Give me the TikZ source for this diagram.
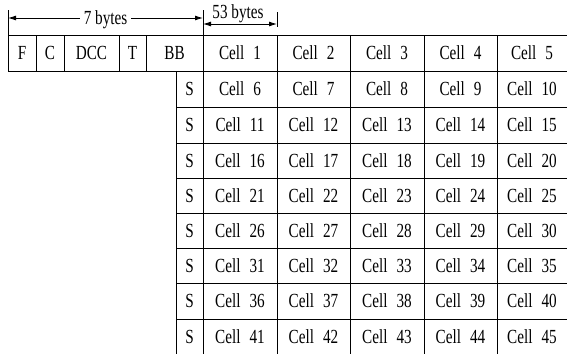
\documentclass[tikz,border=0pt]{standalone}
\usepackage{fontspec}
\setmainfont{Liberation Serif}[FakeStretch=0.76]
\usetikzlibrary{arrows.meta}
\begin{document}
\begin{tikzpicture}[x=1pt,y=-1pt,line width=0.9pt,
  lbl/.style={font=\fontsize{20}{22}\selectfont,inner sep=0pt,text height=13.5pt,text depth=0pt,anchor=center},
  dimline/.style={{Latex[length=8pt,width=5pt]}-{Latex[length=8pt,width=5pt]},line width=0.9pt},
  grid/.style={line width=0.9pt}]
\useasboundingbox (0,0) rectangle (567,354);
% header grid
\draw[grid] (8,35) -- (567,35);
\draw[grid] (8,71) -- (567,71);
\foreach \x in {36,64,119,146} \draw[grid] (\x,35) -- (\x,71);
\draw[grid] (8,10) -- (8,71);
\draw[grid] (203,10) -- (203,354);
\foreach \x in {277,350,424,497} \draw[grid] (\x,35) -- (\x,354);
\draw[grid] (277,12) -- (277,27);
% body grid
\draw[grid] (176,71) -- (176,354);
\foreach \y in {107,143,178,213,248,283,319} \draw[grid] (176,\y) -- (567,\y);
% header labels
\node[lbl] (F) at (22,53) {F};
\node[lbl] (C) at (50,53) {C};
\node[lbl] (DCC) at (91.5,53) {DCC};
\node[lbl] (T) at (132.5,53) {T};
\node[lbl] (BB) at (174.5,53) {BB};
% cells
\foreach \r/\yc in {0/53,1/89,2/125,3/160.5,4/195.5,5/230.5,6/265.5,7/301,8/336.5}{
  \foreach \c/\xc in {1/240,2/313.5,3/387,4/460.5,5/532}{
    \pgfmathtruncatemacro{\n}{\r*5+\c}
    \node[lbl] (cell\n) at (\xc,\yc) {Cell\hspace{0.45em}\n};
  }
}
\foreach \r/\yc in {1/89,2/125,3/160.5,4/195.5,5/230.5,6/265.5,7/301,8/336.5}{
  \node[lbl] (s\r) at (189.5,\yc) {S};
}
% dimension arrows
\coordinate (d7l) at (8,18);
\coordinate (d7r) at (203,18);
\draw[dimline] (d7l) -- node[lbl,fill=white,inner xsep=4pt] (seven) {7 bytes} (d7r);
\coordinate (d53l) at (203,24);
\coordinate (d53r) at (277,24);
\draw[dimline] (d53l) -- (d53r);
\node[lbl] (fiftythree) at (238,11.5) {53 bytes};
\end{tikzpicture}
\end{document}
